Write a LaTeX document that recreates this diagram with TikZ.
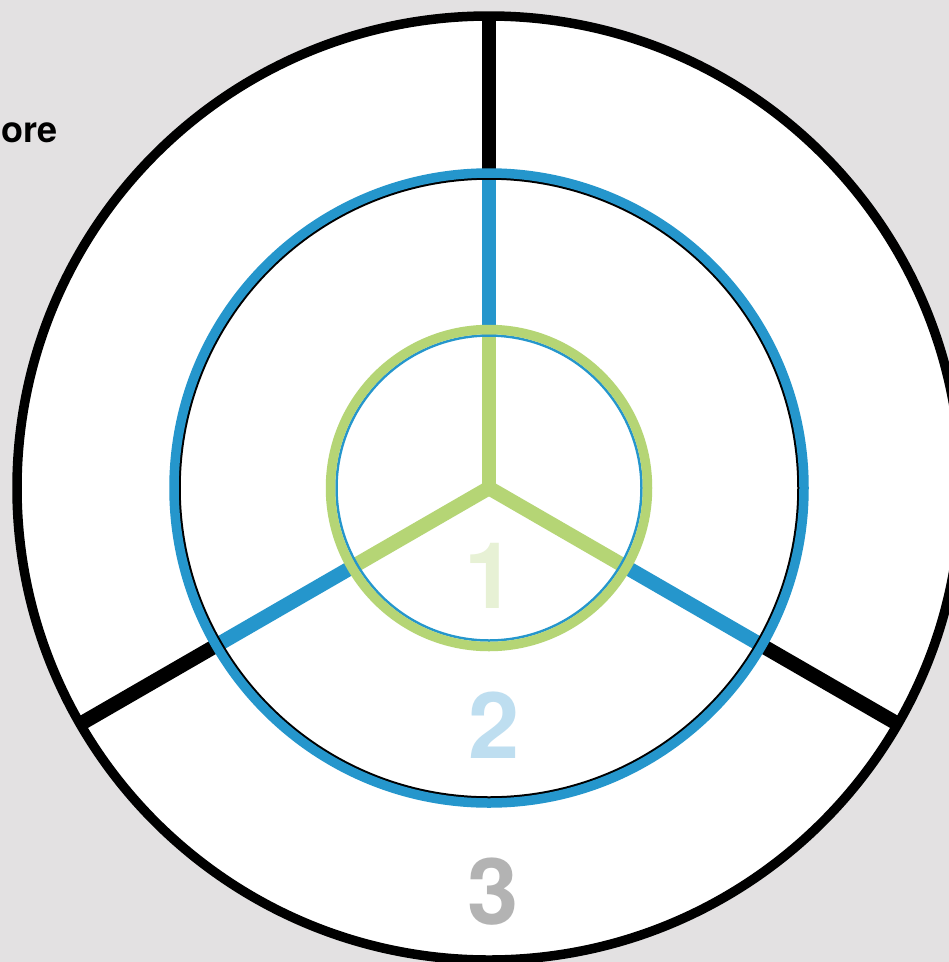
\documentclass[tikz,border=0pt]{standalone}
\usepackage{fontspec}
\setmainfont{TeX Gyre Heros}
\usetikzlibrary{calc}
\usepackage{xcolor}
\definecolor{bgc}{HTML}{E3E1E2}
\definecolor{bluec}{HTML}{2596CC}
\definecolor{greenc}{HTML}{B5D575}
\definecolor{onec}{HTML}{E7F1D5}
\definecolor{twoc}{HTML}{BEDEF0}
\definecolor{threec}{HTML}{B3B3B3}

\begin{document}
\begin{tikzpicture}[
    x=1pt, y=-1pt,
    ring/.style={line width=9.5pt},
    thin ring/.style={line width=2.5pt},
    spoke/.style={line width=14.5pt},
    digit/.style={font=\fontsize{92}{92}\selectfont\bfseries, anchor=center}]

  \fill[bgc] (0,0) rectangle (949,962);
  \useasboundingbox (0,0) rectangle (949,962);

  \coordinate (c) at (489,488);

  % outer ring and black spokes (level 3); y points down, so 270 is up
  \fill[white] (c) circle (472);
  \foreach \a in {270,150,30} {
    \draw[spoke, black] ($(c)+(\a:314)$) -- ($(c)+(\a:472)$);
  }
  \draw[ring, black] (c) circle (472);

  % middle ring and blue spokes (level 2)
  \foreach \a in {270,150,30} {
    \draw[spoke, bluec] ($(c)+(\a:158)$) -- ($(c)+(\a:314)$);
  }
  \draw[thin ring, black] (c) circle (309.5);
  \draw[ring, bluec] (c) circle (315);

  % inner ring and green spokes (level 1)
  \foreach \a in {270,150,30} {
    \draw[spoke, greenc] (c) -- ($(c)+(\a:158)$);
  }
  \draw[thin ring, bluec] (c) circle (152.5);
  \draw[ring, greenc] (c) circle (158.5);

  % level numbers
  \node[digit, onec] (lvl1) at (490,576) {1};
  \node[digit, twoc] (lvl2) at (494,725) {2};
  \node[digit, threec] (lvl3) at (493,892) {3};

  \node[anchor=base west, inner sep=0pt, font=\fontsize{36}{36}\selectfont\bfseries] (lbl) at (1,142) {ore};
\end{tikzpicture}
\end{document}
